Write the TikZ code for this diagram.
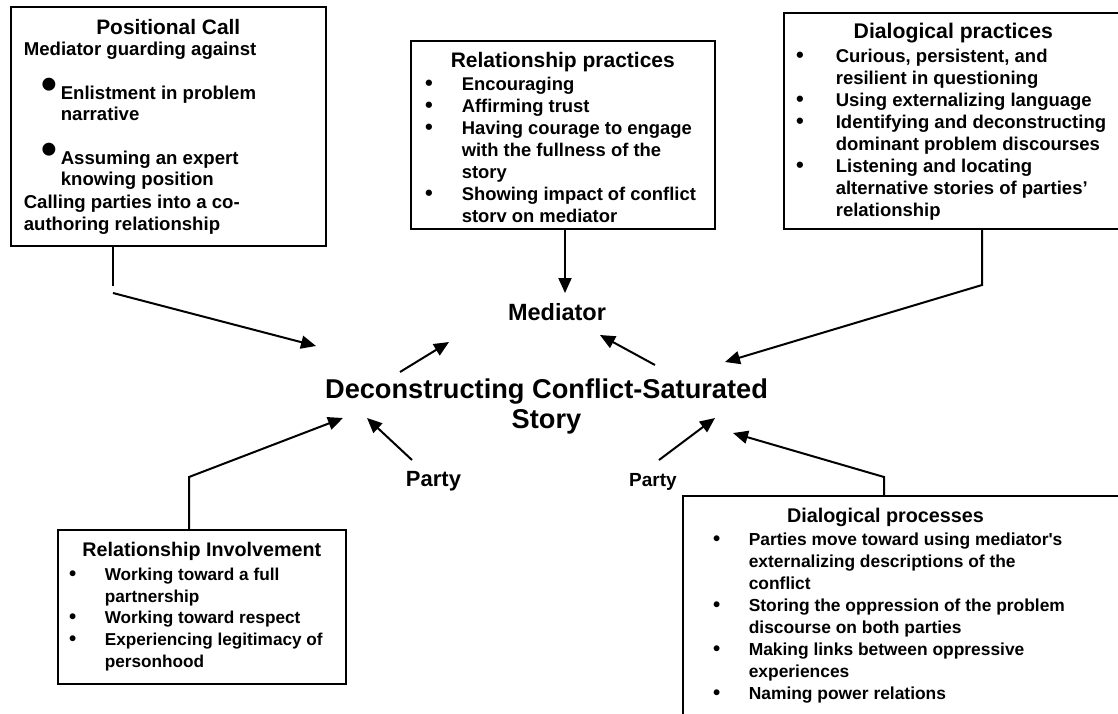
\documentclass[tikz,border=0pt]{standalone}
\usepackage{fontspec}
\setmainfont{Liberation Sans}
\usetikzlibrary{arrows.meta}
\newcommand\bu[3]{\hspace*{#1}\makebox[\dimexpr#2-#1\relax][l]{\smash{\fontsize{#3}{#3}\selectfont\textbullet}}}
\newcommand\ind[1]{\hspace*{#1}}
\newcommand\ttl[3]{\makebox[#1][c]{\fontsize{#2}{#2}\selectfont #3}}
\begin{document}
\begin{tikzpicture}[x=1pt,y=-1pt,
  box/.style={draw, line width=1.6pt, inner sep=0pt, anchor=north west, font=\bfseries},
  conn/.style={line width=2pt},
  arr/.style={line width=2pt, -{Triangle[length=15pt,width=13pt]}},
  lbl/.style={inner sep=0pt}]
\useasboundingbox (0,0) rectangle (1118,713);
\clip (0,0) rectangle (1118,713);

% Positional Call
\node[box] (pc) at (10,6) {\parbox[t][239pt][t]{315pt}{\raggedright\fontsize{18.6}{21.8}\selectfont
\rule{0pt}{27.5pt}\ttl{\linewidth}{20.9}{Positional Call}\\[-0.8pt]
\ind{13pt}Mediator guarding against\\[22.2pt]
\bu{30.4pt}{50pt}{45}Enlistment in problem\\[-0.3pt]
\ind{50pt}narrative\\[21.7pt]
\bu{30.4pt}{50pt}{45}Assuming an expert\\[-0.3pt]
\ind{50pt}knowing position\\[1.2pt]
\ind{13pt}Calling parties into a co-\\[0.2pt]
\ind{13pt}authoring relationship}};

% Relationship practices
\node[box] (rp) at (410,40) {\parbox[t][188pt][t]{304pt}{\raggedright\fontsize{18.4}{22}\selectfont
\rule{0pt}{26.7pt}\ttl{\linewidth}{21}{Relationship practices}\\[1.3pt]
\bu{14.2pt}{51pt}{22}Encouraging\\
\bu{14.2pt}{51pt}{22}Affirming trust\\
\bu{14.2pt}{51pt}{22}Having courage to engage\\
\ind{51pt}with the fullness of the\\
\ind{51pt}story\\
\bu{14.2pt}{51pt}{22}Showing impact of conflict\\
\ind{51pt}storv on mediator}};

% Dialogical practices
\node[box] (dp) at (783,12) {\parbox[t][216pt][t]{339pt}{\raggedright\fontsize{18.5}{22}\selectfont
\rule{0pt}{25.7pt}\ttl{\linewidth}{21.2}{Dialogical practices}\\[2pt]
\bu{12.2pt}{52pt}{22}Curious, persistent, and\\
\ind{52pt}resilient in questioning\\
\bu{12.2pt}{52pt}{22}Using externalizing language\\
\bu{12.2pt}{52pt}{22}Identifying and deconstructing\\
\ind{52pt}dominant problem discourses\\
\bu{12.2pt}{52pt}{22}Listening and locating\\
\ind{52pt}alternative stories of parties’\\
\ind{52pt}relationship}};

% Relationship Involvement
\node[box] (ri) at (57,529) {\parbox[t][154pt][t]{288pt}{\raggedright\fontsize{17.2}{21.8}\selectfont
\rule{0pt}{26.5pt}\ttl{\linewidth}{19.7}{Relationship Involvement}\\[2.2pt]
\bu{11.4pt}{47pt}{20.5}Working toward a full\\
\ind{47pt}partnership\\
\bu{11.4pt}{47pt}{20.5}Working toward respect\\
\bu{11.4pt}{47pt}{20.5}Experiencing legitimacy of\\
\ind{47pt}personhood}};

% Dialogical processes
\node[box] (dr) at (682,495) {\parbox[t][240pt][t]{460pt}{\raggedright\fontsize{17.4}{22}\selectfont
\rule{0pt}{26.7pt}\ttl{405.4pt}{19.8}{Dialogical processes}\\[1.3pt]
\bu{30.2pt}{66pt}{20.5}Parties move toward using mediator\textquotesingle s\\
\ind{66pt}externalizing descriptions of the\\
\ind{66pt}conflict\\
\bu{30.2pt}{66pt}{20.5}Storing the oppression of the problem\\
\ind{66pt}discourse on both parties\\
\bu{30.2pt}{66pt}{20.5}Making links between oppressive\\
\ind{66pt}experiences\\
\bu{30.2pt}{66pt}{20.5}Naming power relations}};

% centre labels
\node[lbl, anchor=north, align=center, text height=50.3pt,
  font=\bfseries\fontsize{27.2}{30.3}\selectfont] (dc) at (546.5,378)
  {Deconstructing Conflict-Saturated\\Story};
\node[lbl, anchor=base, font=\bfseries\fontsize{23.5}{23.5}\selectfont] (med) at (557,320) {Mediator};
\node[lbl, anchor=base, font=\bfseries\fontsize{22}{22}\selectfont] (pl) at (433.5,486) {Party};
\node[lbl, anchor=base, font=\bfseries\fontsize{19}{19}\selectfont] (pr) at (653,486) {Party};

% connector coordinates
\coordinate (pcB) at (113,286);
\coordinate (pcC) at (113,293);
\coordinate (dcA) at (316,346);
\coordinate (medT) at (565,293);
\coordinate (dpK) at (982,285);
\coordinate (dcB) at (725,362);
\coordinate (riK) at (189,477);
\coordinate (dcC) at (343,418);
\coordinate (drK) at (884,477);
\coordinate (dcD) at (733,433);
\coordinate (dcL) at (400,372);
\coordinate (medL) at (449,342);
\coordinate (dcR) at (655,365);
\coordinate (medR) at (600,335);
\coordinate (plT) at (412,460);
\coordinate (dcE) at (367,418);
\coordinate (prT) at (659,460);
\coordinate (dcF) at (715,418);

% connectors
\draw[conn] (pc.south -| pcB) -- (pcB);
\draw[arr] (pcC) -- (dcA);
\draw[arr] (rp.south -| medT) -- (medT);
\draw[arr] (dp.south -| dpK) -- (dpK) -- (dcB);
\draw[arr] (ri.north -| riK) -- (riK) -- (dcC);
\draw[arr] (dr.north -| drK) -- (drK) -- (dcD);
\draw[arr] (dcL) -- (medL);
\draw[arr] (dcR) -- (medR);
\draw[arr] (plT) -- (dcE);
\draw[arr] (prT) -- (dcF);
\end{tikzpicture}
\end{document}
